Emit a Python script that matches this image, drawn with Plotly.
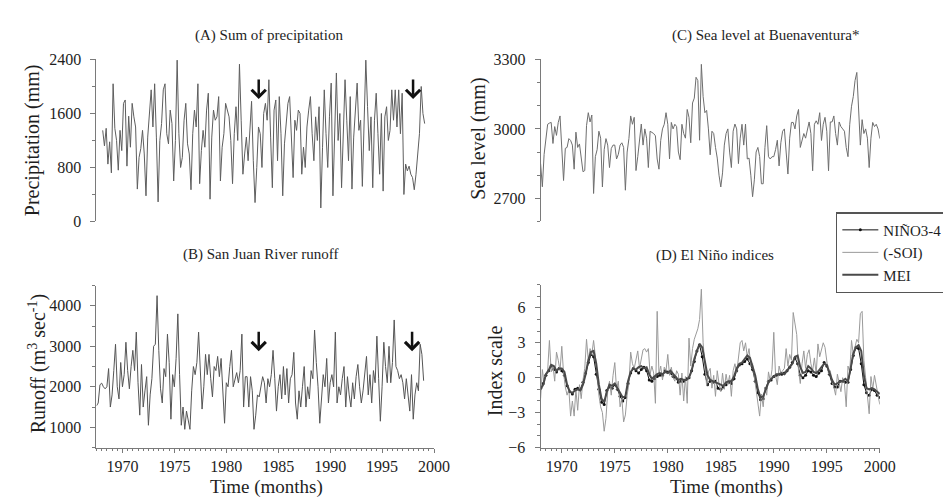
import numpy as np
import plotly.graph_objects as go

# ---------------- data ----------------
precip_start = 1968.1   # bimonthly steps
precip_mm = [
    1350, 1120, 1380, 850, 1180, 720,
    2040, 1380, 1200, 760, 1350, 1050,
    1750, 1800, 820, 1560, 1100, 1750,
    1550, 1400, 480, 950, 1080, 1350,
    1000, 380, 1250, 1550, 1950, 1400,
    2040, 1250, 290, 1200, 1450, 1950,
    2040, 1300, 1150, 1650, 1450, 600,
    1200, 2390, 1300, 800, 950, 1500,
    1750, 1150, 1000, 470, 1300, 1650,
    1400, 2040, 560, 1050, 1350, 1100,
    1650, 1900, 330, 1250, 1650, 1500,
    1550, 1850, 600, 1100, 1300, 1750,
    1650, 1550, 1200, 560, 1300, 1700,
    1200, 2330, 1500, 700, 1000, 1250,
    900, 1300, 1780, 900, 280, 800,
    1400, 1300, 800, 1600, 1750, 1500,
    2100, 1250, 500, 1650, 1800, 900,
    1850, 1300, 380, 1150, 1500, 1750,
    1850, 1100, 650, 1500, 1350, 1650,
    1600, 700, 1100, 800, 1400, 1650,
    1850, 1300, 900, 1550, 1200, 1700,
    200, 1100, 1950, 1300, 800, 1550,
    2050, 380, 1500, 2200, 1200, 1600,
    500, 1400, 2100, 1500, 900, 1850,
    480, 1250, 1700, 2050, 1350, 1500,
    520, 1400, 2390, 1700, 1050, 1550,
    500, 1500, 1900, 1300, 700, 1600,
    450, 1550, 1700, 1200, 1350, 1950,
    1500, 1950, 1400, 1950, 1300, 1900,
    400, 850, 750, 820, 700, 650,
    470, 700, 950, 1300, 2000, 1600,
    1450,
]

runoff_start = 1967.5
runoff_m3s = [
    1530, 1600, 2050, 2090, 2000, 1950,
    2000, 2450, 1500, 1800, 2400, 3050,
    2000, 1700, 2600, 2000, 2300, 3100,
    2400, 1950, 2500, 2900, 2400, 3350,
    2100, 1300, 2550, 1500, 1900, 2250,
    1050, 1800, 2200, 3000, 3050, 4250,
    2900, 1950, 1600, 2450, 2250, 3300,
    2600, 1200, 2300, 2000, 2700, 3800,
    2300, 1050, 1500, 950, 1400, 1200,
    950, 1900, 2500, 2300, 2600, 3350,
    2200, 1450, 2000, 2800, 2300, 2800,
    2200, 1750, 2500, 2400, 2750, 2250,
    2700, 1800, 1100, 2100, 2000, 2500,
    2900, 2000, 2200, 2350, 2100, 2400,
    3300, 1500, 2250, 2250, 1500, 2250,
    1900, 950, 1300, 1800, 1750, 2000,
    2250, 2100, 1600, 2200, 2000, 2300,
    2900, 2200, 1400, 2000, 2300, 1700,
    2500, 1800, 2450, 1600, 2200, 2300,
    2850, 1600, 1200, 1900, 1500, 2000,
    2500, 1500, 2000, 1700, 2400, 2200,
    3400, 2600, 2000, 1100, 1800, 2300,
    2000, 2700, 1600, 2100, 2300, 2000,
    3350, 1600, 2000, 1800, 2200, 2500,
    1500, 2250, 1800, 1500, 2100, 1700,
    2250, 2550, 2000, 1600, 1900, 2300,
    2750, 1800, 2300, 1600, 2400, 2100,
    3250, 2200, 1150, 2000, 3100, 2500,
    2100, 3000, 2100, 2600, 3650, 2500,
    2400, 2200, 2300, 2100, 1700, 2200,
    1800, 1400, 2300, 1200, 1800, 2100,
    1900, 3050, 2800, 2150,
]

sea_start = 1968.0
sea_level_mm = [
    2850, 2750, 2890, 2965, 3020, 3025,
    3028, 2937, 3010, 2972, 3028, 3056,
    2937, 2777, 2916, 2920, 2958, 2950,
    2930, 2826, 2986, 2920, 2935, 2880,
    2815, 2820, 3014, 3070, 3030, 3060,
    2721, 2880, 2910, 2990, 2960, 2749,
    2910, 2958, 2930, 2833, 2915, 2930,
    2930, 2870, 2890, 2930, 2940, 2920,
    2735, 2900, 2958, 3056, 3020, 3050,
    2820, 2880, 2958, 3021, 2930, 3000,
    2960, 2833, 2990, 2985, 2980, 2970,
    2870, 2826, 2950, 3000, 3020, 3070,
    3020, 2870, 3028, 3000, 3020, 3010,
    2900, 2867, 3020, 2980, 2960, 3084,
    3050, 2940, 3112, 3133, 3223, 3209,
    2951, 3279, 3140, 3070, 3080, 3000,
    2888, 2990, 2980, 2920, 2874, 2800,
    2749, 2810, 2930, 2980, 3000, 2900,
    2833, 2990, 3021, 3000, 2850, 2960,
    3020, 2930, 3021, 2870, 2874, 2800,
    2707, 2780, 2900, 2920, 2880, 2763,
    2763, 2920, 3014, 2880, 2870, 2880,
    2880, 2910, 2951, 2840, 2940, 2990,
    3000, 2900, 2805, 2960, 3028, 3028,
    3000, 3056, 3084, 2920, 2950, 2980,
    2960, 3000, 3030, 2980, 2819, 3020,
    3035, 3020, 3070, 2950, 3020, 3050,
    2990, 2819, 3030, 3030, 3056, 2980,
    2930, 3030, 3010, 3000, 2990, 2920,
    2880, 3020, 3098, 3140, 3209, 3244,
    3070, 2930, 3040, 2980, 3000, 2960,
    2833, 2960, 3028, 3010, 3020, 3000,
    2958,
]

index_start = 1968.0
mei_quarterly = [
    -1.0, -0.6, 0.3, 0.6,
    1.1, 1.0, 0.6, 0.8,
    0.8, 0.5, -0.6, -1.2,
    -1.3, -1.1, -1.0, -1.1,
    -0.6, 0.3, 1.5, 2.2,
    2.3, 1.2, -0.6, -1.8,
    -2.1, -1.2, -0.6, -0.7,
    -0.5, -0.9, -1.3, -1.7,
    -1.6, -0.3, 0.5, 0.8,
    0.7, 0.9, 1.0, 0.8,
    0.9, 0.3, -0.1, 0.1,
    0.3, 0.4, 0.3, 0.5,
    0.4, 0.6, 0.3, 0.1,
    -0.2, -0.1, -0.2, -0.2,
    0.0, 0.6, 1.6, 2.3,
    2.9, 2.6, 1.3, 0.2,
    -0.2, -0.3, -0.4, -0.5,
    -0.6, -0.7, -0.4, -0.3,
    -0.3, 0.1, 0.8, 1.2,
    1.3, 1.6, 1.9, 1.7,
    1.0, 0.2, -1.0, -1.7,
    -1.6, -1.0, -0.4, -0.1,
    0.1, 0.3, 0.3, 0.4,
    0.3, 0.6, 0.9, 1.2,
    1.8, 1.9, 0.9, 0.4,
    0.5, 1.0, 0.8, 0.5,
    0.4, 0.6, 0.9, 1.2,
    1.1, 0.5, -0.2, -0.6,
    -0.5, -0.3, -0.3, -0.1,
    -0.3, 0.8, 2.1, 2.6,
    2.8, 2.3, 0.2, -0.9,
    -1.0, -0.9, -1.0, -1.2,
    -1.4,
]

nino34_quarterly = [
    -0.9, -0.5, 0.2, 0.6,
    1.0, 0.7, 0.5, 0.8,
    0.6, 0.2, -0.7, -1.2,
    -1.4, -1.0, -0.9, -1.0,
    -0.4, 0.4, 1.3, 2.0,
    1.8, 0.3, -1.0, -2.1,
    -2.3, -1.1, -0.8, -0.9,
    -0.6, -1.0, -1.6, -2.0,
    -1.7, -0.5, 0.4, 0.8,
    0.6, 0.4, 0.7, 0.9,
    0.6, -0.2, -0.3, -0.1,
    0.1, 0.2, 0.2, 0.6,
    0.5, 0.4, 0.1, 0.0,
    -0.4, -0.3, -0.3, -0.1,
    0.0, 0.6, 1.4, 2.3,
    2.8, 1.8, 0.3, -0.6,
    -0.3, -0.4, -0.3, -0.9,
    -1.0, -0.8, -0.6, -0.4,
    -0.5, -0.1, 0.6, 1.1,
    1.2, 1.4, 1.6, 1.2,
    0.7, -0.3, -1.3, -1.9,
    -1.8, -0.9, -0.3, -0.2,
    0.1, 0.2, 0.3, 0.3,
    0.4, 0.6, 0.9, 1.3,
    1.7, 1.2, 0.2, 0.0,
    0.2, 0.6, 0.5, 0.2,
    0.1, 0.4, 0.6, 1.3,
    1.0, 0.3, -0.5, -0.8,
    -0.8, -0.3, -0.3, -0.4,
    -0.4, 0.7, 1.9, 2.6,
    2.5, 1.2, -0.6, -1.3,
    -1.5, -1.0, -1.1, -1.5,
    -1.7,
]

neg_soi_bimonthly = [
    -1.8, 0.7, -0.5, 0.3, 0.6, 3.2,
    0.5, 1.0, -0.3, 2.2, 1.5, 0.6,
    2.7, 0.4, -0.8, -1.5, -1.0, -3.3,
    -2.0, -3.3, -1.0, -2.8, -0.6, -1.8,
    -0.2, 0.8, 3.3, 1.5, 2.5, 2.0,
    3.2, 1.8, 0.5, -1.5, -2.5, -3.0,
    -4.6, -3.5, -1.2, -0.3, -1.5, 0.2,
    1.3, -1.0, -0.3, -2.5, -1.8, -3.8,
    -3.2, -1.5, -0.5, 2.2, 1.2, 0.8,
    1.5, 2.3, 0.8, 1.6, 2.4, 2.5,
    2.2, 2.5, 0.3, 1.0, 0.4, -2.2,
    5.7, 0.3, 1.0, -0.2, 0.9, 0.6,
    2.0, 0.2, 0.9, 0.0, -0.3, 0.6,
    0.3, -1.5, 0.4, -2.0, 0.1, -2.2,
    3.4, 1.0, 2.5, 3.3, 3.8, 4.2,
    5.0, 7.6, 3.0, 0.8, -0.7, 0.5,
    0.8, -0.9, 0.2, -1.6, 0.6, -0.5,
    -1.2, 0.4, -1.0, 0.3, -0.6, 0.2,
    -1.6, 0.6, 1.2, 0.4, 1.5, 3.0,
    3.2, 2.3, 3.0, 1.8, 2.5, 1.0,
    1.2, 0.1, -1.0, -2.2, -3.3, -1.4,
    -2.5, -0.8, -1.5, 0.5, -0.3, 0.7,
    3.9, 0.2, -0.6, 1.0, 0.4, 0.6,
    0.8, 2.5, 1.0, 2.0, 1.5, 5.6,
    4.5, 3.7, 0.6, -0.5, 1.2, 2.3,
    0.8, 2.0, 2.4, 1.2, 0.6, 1.7,
    0.3, 2.9, 1.8, 2.4, 3.0, 2.6,
    1.2, 0.3, 0.6, -0.4, -0.8, -1.5,
    0.3, -0.6, -1.2, 0.0, -0.5, -2.5,
    1.0, 0.5, 3.2, 2.0, 2.8, 3.3,
    3.0, 5.5, 5.7, 1.5, 0.0, -1.8,
    -3.1, 0.1, -1.0, 0.2, -0.8, -1.5,
    -2.3,
]

year_ticks = [1970, 1975, 1980, 1985, 1990, 1995, 2000]
precip_ticks = [0, 800, 1600, 2400]
runoff_ticks = [1000, 2000, 3000, 4000]
sea_ticks = [2700, 3000, 3300]
index_ticks = [-6, -3, 0, 3, 6]


def times(start, n, per_year):
    return start + np.arange(n) / per_year


SERIF = "Liberation Serif"
AXC = "#7a7a7a"
TXT = "#1e1e1e"

fig = go.Figure()

fig.add_trace(go.Scatter(x=times(precip_start, len(precip_mm), 6), y=precip_mm,
                         mode="lines", line=dict(color="#5e5e5e", width=1),
                         xaxis="x", yaxis="y", showlegend=False))
fig.add_trace(go.Scatter(x=times(runoff_start, len(runoff_m3s), 6), y=runoff_m3s,
                         mode="lines", line=dict(color="#555555", width=1),
                         xaxis="x2", yaxis="y2", showlegend=False))
fig.add_trace(go.Scatter(x=times(sea_start, len(sea_level_mm), 6), y=sea_level_mm,
                         mode="lines", line=dict(color="#6e6e6e", width=1),
                         xaxis="x3", yaxis="y3", showlegend=False))

fig.add_trace(go.Scatter(x=times(index_start, len(nino34_quarterly), 4), y=nino34_quarterly,
                         mode="lines+markers", name="NIÑO3-4",
                         line=dict(color="#111111", width=1),
                         marker=dict(size=3, color="#111111"),
                         xaxis="x4", yaxis="y4"))
fig.add_trace(go.Scatter(x=times(index_start, len(neg_soi_bimonthly), 6), y=neg_soi_bimonthly,
                         mode="lines", name="(-SOI)",
                         line=dict(color="#9a9a9a", width=1),
                         xaxis="x4", yaxis="y4"))
fig.add_trace(go.Scatter(x=times(index_start, len(mei_quarterly), 4), y=mei_quarterly,
                         mode="lines", name="MEI",
                         line=dict(color="#4a4a4a", width=2),
                         xaxis="x4", yaxis="y4"))

W, H = 951, 501


def px_x(p):
    return p / W


def px_y(p):
    return 1 - p / H


def yax(dom, rng, ticks, minor, xanchor):
    return dict(domain=dom, range=rng, tickvals=ticks, showline=True, linecolor=AXC,
                linewidth=1, ticks="outside", ticklen=5, tickcolor=AXC, showgrid=False,
                zeroline=False, tickfont=dict(family=SERIF, size=16, color=TXT),
                ticklabelstandoff=6, anchor=xanchor,
                minor=dict(ticks="outside", ticklen=3, dtick=minor, tickcolor=AXC, showgrid=False))


def xax(dom, rng, visible, yanchor):
    return dict(domain=dom, range=rng, tickvals=year_ticks, visible=visible, showline=True,
                linecolor=AXC, linewidth=1, ticks="outside", ticklen=4, tickcolor=AXC,
                showgrid=False, zeroline=False, anchor=yanchor,
                tickfont=dict(family=SERIF, size=16, color=TXT),
                minor=dict(ticks="outside", ticklen=2, dtick=0.5, tickcolor=AXC, showgrid=False))


xl = [px_x(90), px_x(433.3)]
xr = [px_x(541.7), px_x(886.7)]
ytop = [px_y(212.7), px_y(45)]
ybotL = [px_y(446.7), px_y(279)]
ybotR = [px_y(446.7), px_y(278)]

fig.update_layout(
    width=W, height=H, margin=dict(l=0, r=0, t=0, b=0),
    paper_bgcolor="white", plot_bgcolor="white",
    xaxis=xax(xl, [1967.5, 2000], False, "y"),
    yaxis=yax(ytop, [0, 2400], precip_ticks, 400, "x"),
    xaxis2=xax(xl, [1967.5, 2000], True, "y2"),
    yaxis2=yax(ybotL, [500, 4500], runoff_ticks, 500, "x2"),
    xaxis3=xax(xr, [1968, 2000], False, "y3"),
    yaxis3=yax(ytop, [2600, 3300], sea_ticks, 100, "x3"),
    xaxis4=xax(xr, [1968, 2000], True, "y4"),
    yaxis4=yax(ybotR, [-6, 8], index_ticks, 1, "x4"),
    legend=dict(x=px_x(842), y=px_y(203), xanchor="left", yanchor="top",
                bordercolor="#555555", borderwidth=1.5, bgcolor="white",
                font=dict(family=SERIF, size=15, color=TXT), tracegroupgap=0,
                itemwidth=36),
)

ann = []
titles = [("(A) Sum of precipitation", 265, 20), ("(B) San Juan River runoff", 257, 247),
          ("(C) Sea level at Buenaventura*", 770, 20), ("(D) El Niño indices", 719, 248)]
for t, cx, cy in titles:
    ann.append(dict(text=t, x=px_x(cx), y=px_y(cy), xref="paper", yref="paper",
                    xanchor="center", yanchor="middle", showarrow=False,
                    font=dict(family=SERIF, size=15, color=TXT)))

ytitles = [("Precipitation (mm)", 25, 129), ("Runoff (m<sup>3</sup> sec<sup>-1</sup>)", 30, 360),
           ("Sea level (mm)", 479, 127), ("Index scale", 495, 367)]
for t, cx, cy in ytitles:
    ann.append(dict(text=t, x=px_x(cx), y=px_y(cy), xref="paper", yref="paper",
                    xanchor="center", yanchor="middle", showarrow=False, textangle=-90,
                    font=dict(family=SERIF, size=20, color=TXT)))

for cx in (263, 731):
    ann.append(dict(text="Time (months)", x=px_x(cx), y=px_y(488), xref="paper", yref="paper",
                    xanchor="center", yanchor="middle", showarrow=False,
                    font=dict(family=SERIF, size=19, color=TXT)))

for ax_x, y_tip in ((255, 86), (412, 86), (255, 347), (411, 347)):
    ann.append(dict(text="", x=px_x(ax_x), y=px_y(y_tip), xref="paper", yref="paper",
                    ax=0, ay=-21, showarrow=True, arrowhead=4, arrowsize=1.1,
                    arrowwidth=2.5, arrowcolor="#111111"))

fig.update_layout(annotations=ann)

fig.write_html("out.html")
